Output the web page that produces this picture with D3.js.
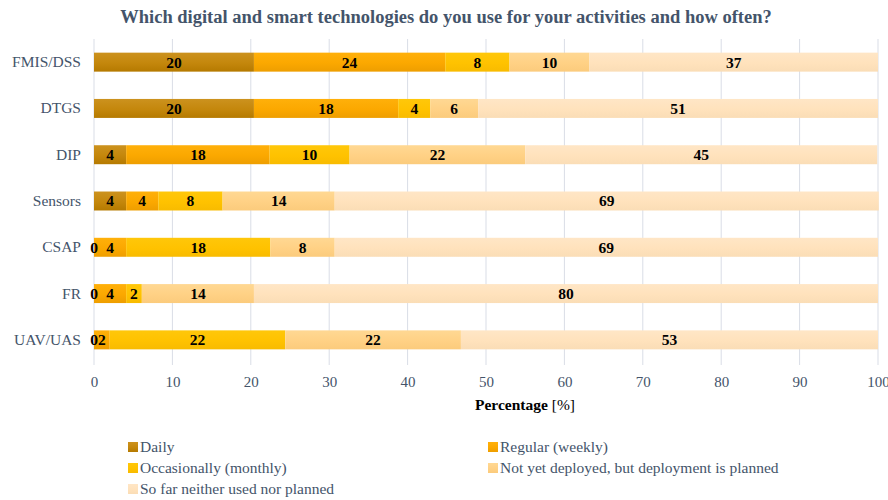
<!DOCTYPE html>
<html>
<head>
<meta charset="utf-8">
<script src="https://cdn.jsdelivr.net/npm/d3@7"></script>
<style>
  body { margin: 0; background: #fff; }
  svg { display: block; font-family: "Liberation Serif", "Times New Roman", serif; }
</style>
</head>
<body>
<svg id="chart" width="888" height="500"></svg>
<script>
// technologies, top to bottom
const categories = ["FMIS/DSS", "DTGS", "DIP", "Sensors", "CSAP", "FR", "UAV/UAS"];
const seriesNames = [
    "Daily",
    "Regular (weekly)",
    "Occasionally (monthly)",
    "Not yet deployed, but deployment is planned",
    "So far neither used nor planned"
];
// percentages per series, same order as categories
const daily = [20.4, 20.4, 4.1, 4.1, 0, 0, 0];
const weekly = [24.4, 18.4, 18.3, 4.1, 4.1, 4.1, 2.0];
const monthly = [8.2, 4.1, 10.2, 8.2, 18.4, 2.0, 22.4];
const planned = [10.2, 6.1, 22.4, 14.3, 8.2, 14.3, 22.4];
const neither = [36.8, 51.0, 44.9, 69.4, 69.3, 79.6, 53.2];
const xTicks = [0, 10, 20, 30, 40, 50, 60, 70, 80, 90, 100];

const colors = ["#C4870C", "#FBA800", "#FFC200", "#FFD185", "#FFE2BC"];
const colorsLight = ["#CC921E", "#FFB00A", "#FFC70A", "#FFD893", "#FFE6C6"];
const colorsDark = ["#B57A00", "#EE9E00", "#F8BB00", "#FBCB7C", "#FADDB6"];

const svg = d3.select("#chart");
const margin = { top: 39, right: 10, bottom: 137, left: 94 };
const width = 888 - margin.left - margin.right;
const height = 500 - margin.top - margin.bottom;

const rows = categories.map((c, i) => ({
    cat: c, d: daily[i], w: weekly[i], m: monthly[i], p: planned[i], n: neither[i]
}));
const keys = ["d", "w", "m", "p", "n"];
const stacked = d3.stack().keys(keys)(rows);

const x = d3.scaleLinear().domain([0, 100]).range([0, 784]);
const y = d3.scaleBand().domain(categories).range([0, height]).paddingInner(0.59).paddingOuter(0.295);

const defs = svg.append("defs");
colors.forEach((c, i) => {
    const g = defs.append("linearGradient")
        .attr("id", "grad" + i)
        .attr("x1", 0).attr("y1", 0).attr("x2", 0).attr("y2", 1);
    g.append("stop").attr("offset", "0%").attr("stop-color", colorsLight[i]);
    g.append("stop").attr("offset", "55%").attr("stop-color", c);
    g.append("stop").attr("offset", "100%").attr("stop-color", colorsDark[i]);
});

// title
svg.append("text")
    .attr("x", 446)
    .attr("y", 23)
    .attr("text-anchor", "middle")
    .attr("font-size", 18.5)
    .attr("font-weight", "bold")
    .attr("fill", "#44546A")
    .text("Which digital and smart technologies do you use for your activities and how often?");

const chart = svg.append("g").attr("transform", `translate(${margin.left},${margin.top})`);

// gridlines
chart.append("g")
    .selectAll("line")
    .data(xTicks)
    .join("line")
    .attr("x1", d => x(d)).attr("x2", d => x(d))
    .attr("y1", 0).attr("y2", height + 2)
    .attr("stroke", "#D9DDE6")
    .attr("stroke-width", 1);

// x tick labels
const xAxis = d3.axisBottom(x).tickValues(xTicks).tickSize(0).tickPadding(13);
chart.append("g")
    .attr("transform", `translate(0,${height})`)
    .call(xAxis)
    .call(g => g.select(".domain").remove())
    .selectAll("text")
    .attr("font-family", "Liberation Serif, serif")
    .attr("font-size", 15)
    .attr("fill", "#44546A");

// y labels
const yAxis = d3.axisLeft(y).tickSize(0).tickPadding(13);
chart.append("g")
    .call(yAxis)
    .call(g => g.select(".domain").remove())
    .selectAll("text")
    .attr("font-family", "Liberation Serif, serif")
    .attr("font-size", 15.5)
    .attr("fill", "#44546A");

// bars
const layers = chart.append("g")
    .selectAll("g")
    .data(stacked)
    .join("g")
    .attr("fill", (d, i) => `url(#grad${i})`);

layers.selectAll("rect")
    .data(d => d)
    .join("rect")
    .attr("x", d => x(d[0]))
    .attr("y", d => y(d.data.cat))
    .attr("width", d => x(d[1]) - x(d[0]))
    .attr("height", y.bandwidth());

// value labels
const labels = chart.append("g");
stacked.forEach(layer => {
    layer.forEach(d => {
        labels.append("text")
            .attr("x", (x(d[0]) + x(d[1])) / 2)
            .attr("y", y(d.data.cat) + y.bandwidth() / 2)
            .attr("dy", "0.35em")
            .attr("text-anchor", "middle")
            .attr("font-size", 15.5)
            .attr("font-weight", "bold")
            .attr("fill", "#000")
            .text(Math.round(d[1] - d[0]));
    });
});

// axis title
const xt = svg.append("text")
    .attr("x", 525)
    .attr("y", 410)
    .attr("text-anchor", "middle")
    .attr("font-size", 15.5)
    .attr("fill", "#000");
xt.append("tspan").attr("font-weight", "bold").text("Percentage ");
xt.append("tspan").text("[%]");

// legend
const legendPos = [[128, 447], [488, 447], [128, 468], [488, 468], [128, 489]];
const legend = svg.append("g")
    .selectAll("g")
    .data(seriesNames)
    .join("g")
    .attr("transform", (d, i) => `translate(${legendPos[i][0]},${legendPos[i][1]})`);

legend.append("rect")
    .attr("x", 0).attr("y", -5)
    .attr("width", 10).attr("height", 10)
    .attr("fill", (d, i) => `url(#grad${i})`);

legend.append("text")
    .attr("x", 12)
    .attr("dy", "0.35em")
    .attr("font-size", 15.5)
    .attr("fill", "#44546A")
    .text(d => d);
</script>
</body>
</html>
